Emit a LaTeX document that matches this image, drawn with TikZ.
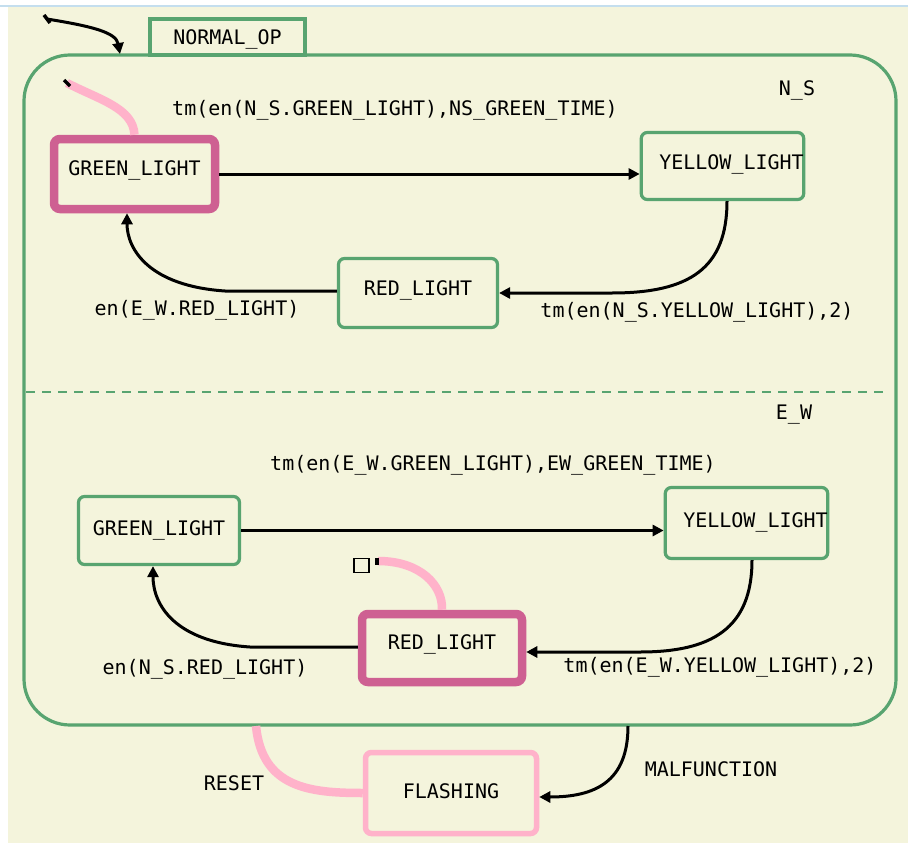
\documentclass[tikz,border=0pt]{standalone}
\usepackage{fontspec}
\setmainfont{DejaVu Sans Mono}
\usetikzlibrary{arrows.meta}
\definecolor{bgcream}{RGB}{244,244,220}
\definecolor{stgreen}{RGB}{88,164,112}
\definecolor{actmag}{RGB}{206,96,146}
\definecolor{pinkish}{RGB}{255,178,202}
\definecolor{topblue}{RGB}{196,222,238}
\begin{document}
\begin{tikzpicture}[x=1pt,y=-1pt,
  txt/.style={font=\fontsize{20}{22}\selectfont, text height=14.4pt},
  statebox/.style={txt, draw=stgreen, line width=3.2pt, rounded corners=6pt, inner sep=0pt, text depth=8pt},
  activebox/.style={statebox, draw=actmag, line width=8.5pt},
  flashbox/.style={statebox, draw=pinkish, line width=5.5pt},
  lbl/.style={txt, text depth=0pt, inner sep=0pt},
  trans/.style={draw=black, line width=3pt, -{Triangle[length=11pt,width=11pt]}},
  defpink/.style={draw=pinkish, line width=8.5pt},
  tick/.style={draw=black, line width=3.5pt}
]
\useasboundingbox (0,0) rectangle (908,843);
\fill[white] (0,0) rectangle (908,843);
\fill[bgcream] (8,7) rectangle (908,843);
\draw[topblue, line width=2pt] (0,6) -- (908,6);

% superstate NORMAL_OP
\node[draw=stgreen, line width=3.2pt, rounded corners=46pt, minimum width=872pt, minimum height=670pt, inner sep=0pt] (normalop) at (460,390) {};
\node[statebox, rounded corners=0pt, minimum width=155pt, minimum height=36pt, text depth=0pt] (normaloptab) at (227.5,37) {NORMAL\_OP};
\draw[stgreen, line width=2.5pt, dash pattern=on 9pt off 7pt] (26,392) -- (890,392);
\node[lbl] (nslbl) at (797,88) {N\_S};
\node[lbl] (ewlbl) at (794,412) {E\_W};

% N_S states
\node[activebox, minimum width=161pt, minimum height=70pt, text depth=12pt] (greenns) at (134.5,174) {GREEN\_LIGHT};
\node[statebox, minimum width=160pt, minimum height=67pt, text depth=8pt] (yellowns) at (722.5,166) {\hspace*{18pt}YELLOW\_LIGHT};
\node[statebox, minimum width=159pt, minimum height=69pt, text depth=10pt] (redns) at (418,293) {RED\_LIGHT};

% E_W states
\node[statebox, minimum width=161pt, minimum height=68pt, text depth=4pt] (greenew) at (159,530.5) {GREEN\_LIGHT};
\node[statebox, minimum width=160pt, minimum height=71pt, text depth=6pt] (yellowew) at (746.5,523) {\hspace*{18pt}YELLOW\_LIGHT};
\node[activebox, minimum width=160pt, minimum height=68pt, text depth=12pt] (redew) at (442,648) {RED\_LIGHT};

% FLASHING
\node[flashbox, minimum width=171pt, minimum height=81pt, text depth=4pt] (flashing) at (451,793) {FLASHING};

% default transition into NORMAL_OP
\coordinate (init0) at (47,19);
\coordinate (init0end) at (120,54);
\draw[tick] (44,15) -- (50,23);
\draw[trans] (init0) .. controls (90,26) and (116,32) .. (init0end);

% N_S default
\coordinate (nsdef) at (67,83);
\draw[defpink] (nsdef) .. controls (100,100) and (133,108) .. (greenns.north);
\draw[tick] (64,80) -- (70,86);

% E_W default
\node[draw=black, line width=1.5pt, minimum width=15pt, minimum height=14pt, inner sep=0pt] (ewhist) at (361.5,565.5) {};
\coordinate (ewdef) at (378,561);
\draw[defpink] (ewdef) .. controls (420,561) and (443,585) .. (redew.north);
\draw[tick] (377,558) -- (377,565);

% N_S transitions
\draw[trans] (greenns.east) -- (greenns.east -| yellowns.west);
\node[lbl] (l1) at (395,108) {tm(en(N\_S.GREEN\_LIGHT),NS\_GREEN\_TIME)};
\coordinate (ns2) at (612,293);
\draw[trans] ([xshift=4.5pt]yellowns.south) .. controls (727,268) and (690,293) .. (ns2) -- (redns.east);
\node[lbl] (l2) at (697,310) {tm(en(N\_S.YELLOW\_LIGHT),2)};
\coordinate (ns3) at (225,291);
\draw[trans] (redns.west |- ns3) -- (ns3) .. controls (150,286) and (127,250) .. ([xshift=-7.5pt]greenns.south);
\node[lbl] (l3) at (197,308) {en(E\_W.RED\_LIGHT)};

% E_W transitions
\draw[trans] (greenew.east) -- (greenew.east -| yellowew.west);
\node[lbl] (l4) at (493,463) {tm(en(E\_W.GREEN\_LIGHT),EW\_GREEN\_TIME)};
\coordinate (ew2) at (640,652);
\draw[trans] ([xshift=5.5pt]yellowew.south) .. controls (752,628) and (712,652) .. (ew2) -- ([yshift=-4pt]redew.east);
\node[lbl] (l5) at (720,665) {tm(en(E\_W.YELLOW\_LIGHT),2)};
\coordinate (ew3) at (250,647);
\draw[trans] (redew.west |- ew3) -- (ew3) .. controls (175,642) and (153,605) .. ([xshift=-6pt]greenew.south);
\node[lbl] (l6) at (205,667) {en(N\_S.RED\_LIGHT)};

% RESET and MALFUNCTION
\coordinate (resetstart) at (256,726);
\draw[defpink] (resetstart) .. controls (262,788) and (310,793) .. (flashing.west);
\node[lbl] (l7) at (234,783) {RESET};
\coordinate (malstart) at (628,726);
\draw[trans] (malstart) .. controls (628,782) and (595,797) .. ([yshift=-4pt]flashing.east);
\node[lbl] (l8) at (711,769) {MALFUNCTION};
\end{tikzpicture}
\end{document}
